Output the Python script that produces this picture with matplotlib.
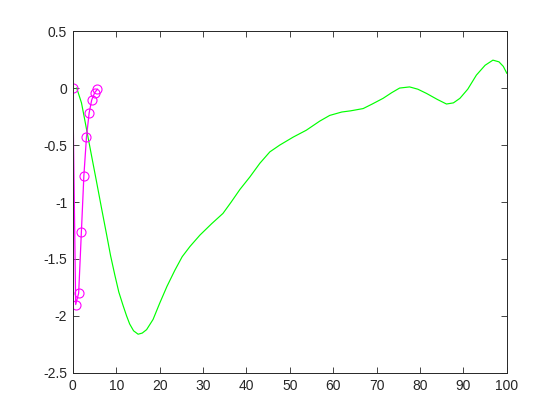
import matplotlib
matplotlib.use("Agg")
import matplotlib.pyplot as plt

# green curve
green_x = [0.9, 2, 2.76, 3.5, 4.3, 5.46, 6.6, 7.76, 8.7, 9.68, 10.6, 11.6, 12.4,
           13.1, 14, 15.05, 16, 17, 18.5, 20, 21.7, 23.5, 25.2, 27, 29.3, 32,
           34.6, 36.5, 38.5, 40.8, 43.1, 45.4, 47.7, 50.8, 53.8, 56.9, 59.2,
           62, 64, 66.9, 69, 71.5, 73.5, 75.3, 77.6, 79.5, 81.5, 84, 86.1, 87.7,
           89.2, 91, 93, 95, 96.8, 98.2, 99.2, 100]
green_y = [0, -0.13, -0.28, -0.43, -0.59, -0.82, -1.05, -1.28, -1.47, -1.64,
           -1.79, -1.91, -2.0, -2.07, -2.13, -2.16, -2.15, -2.12, -2.03, -1.89,
           -1.74, -1.60, -1.48, -1.39, -1.29, -1.19, -1.10, -1.00, -0.89, -0.78,
           -0.66, -0.56, -0.50, -0.43, -0.37, -0.29, -0.24, -0.21, -0.20,
           -0.18, -0.14, -0.09, -0.04, 0.0, 0.01, -0.01, -0.047, -0.10, -0.14,
           -0.13, -0.09, -0.01, 0.114, 0.20, 0.245, 0.23, 0.19, 0.13]

# magenta series with circle markers
mag_x = [0, 0.66, 1.35, 1.98, 2.55, 3.15, 3.76, 4.35, 5.05, 5.68]
mag_y = [0, -1.90, -1.80, -1.26, -0.77, -0.43, -0.22, -0.105, -0.04, -0.01]

xticks = list(range(0, 101, 10))
yticks = [-2.5, -2, -1.5, -1, -0.5, 0, 0.5]
ytick_labels = ["-2.5", "-2", "-1.5", "-1", "-0.5", "0", "0.5"]

plt.rcParams["font.family"] = ["Liberation Sans", "DejaVu Sans"]

fig = plt.figure(figsize=(5.6, 4.2), dpi=100)
ax = fig.add_axes([0.13, 0.112, 0.775, 0.814])

ax.plot(green_x, green_y, color="#00ff00", linewidth=0.85)
ax.plot(mag_x, mag_y, color="#ff00ff", linewidth=0.9, marker="o",
        markersize=6.5, markerfacecolor="none", markeredgewidth=0.8)

ax.set_xlim(0, 100)
ax.set_ylim(-2.5, 0.5)
ax.set_xticks(xticks)
ax.set_yticks(yticks)
ax.set_yticklabels(ytick_labels)
ax.tick_params(direction="in", top=True, right=True, length=4, width=0.6,
               labelsize=10, colors="#262626", pad=4)
for s in ax.spines.values():
    s.set_linewidth(0.7)
    s.set_color("#262626")

fig.savefig("out.png", dpi=100)
